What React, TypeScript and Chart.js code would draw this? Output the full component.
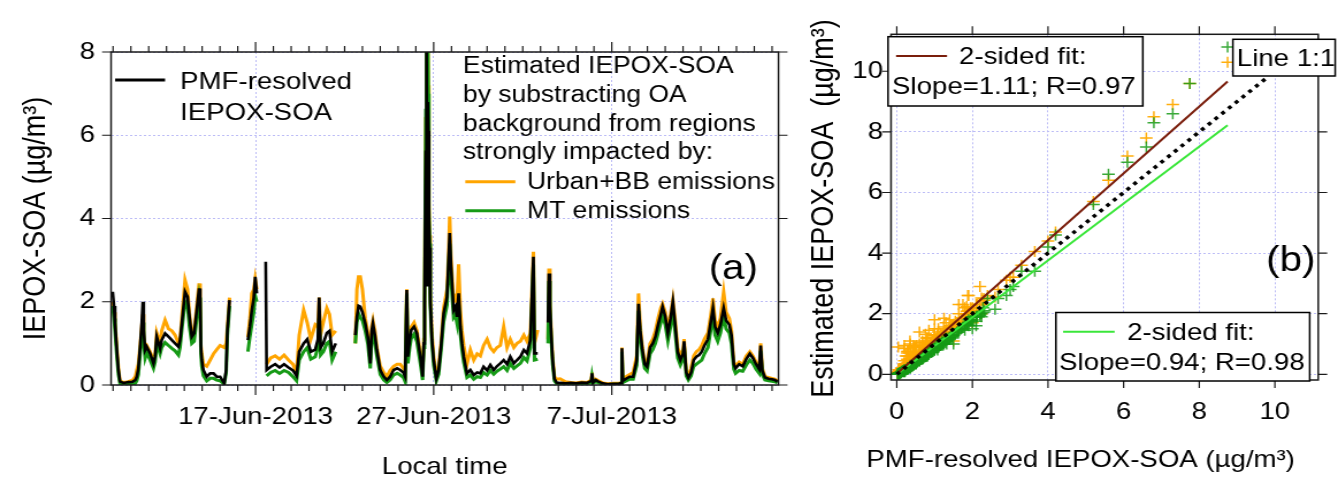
import React, { useEffect, useRef } from "react";
import { Chart, registerables } from "chart.js";

Chart.register(...registerables);

const FONT = "'Liberation Sans', Arial, Helvetica, sans-serif";
// the reference figure is rendered slightly stretched horizontally
const S = 1.15;

// ---------------- DATA ----------------
// time in days of June 2013 (31 = 1-Jul), null rows are gaps in the record
const dayOfJune = [
  8.98, 9.05, 9.11, 9.21, 9.30, 9.39, 9.60, 9.85, 10.10, 10.25,
  10.33, 10.42, 10.52, 10.61, 10.67, 10.72, 10.80, 10.89, 11.08, 11.27,
  11.36, 11.45, 11.64, 11.73, 11.92, 12.11, 12.30, 12.48, 12.67, 12.76,
  12.86, 13.04, 13.18, 13.29, 13.42, 13.55, 13.70, 13.83, 13.89, 13.93,
  13.98, 14.07, 14.26, 14.45, 14.64, 14.82, 15.01, 15.24, 15.35, 15.42,
  15.54, 16.00,
  16.57, 16.68, 16.79, 16.90, 16.98, 17.07, 17.30, 17.57, 17.62, 17.85,
  18.10, 18.35, 18.60, 18.85, 19.10, 19.30, 19.45, 19.70, 19.90, 20.10,
  20.35, 20.50, 20.57, 20.65, 20.80, 21.00, 21.15, 21.30, 21.50, 22.00,
  22.60, 22.69, 22.78, 22.88, 23.00, 23.16, 23.30, 23.44, 23.52, 23.59,
  23.70, 23.81, 24.00, 24.20, 24.37, 24.55, 24.75, 24.95, 25.12, 25.30,
  25.40, 25.49, 25.55, 25.66, 25.74, 25.90, 26.06, 26.25, 26.38, 26.45,
  26.49, 26.53, 26.56, 26.58, 26.60, 26.62, 26.64, 26.66, 26.68, 26.70,
  26.72, 26.74, 26.77, 26.81, 26.90, 27.00, 27.15, 27.28, 27.41, 27.56,
  27.75, 27.84, 27.90, 27.97, 28.05, 28.12, 28.22, 28.31, 28.40, 28.50,
  28.59, 28.69, 28.87, 29.06, 29.25, 29.44, 29.62, 29.80, 30.00, 30.18,
  30.37, 30.55, 30.74, 30.93, 31.12, 31.30, 31.50, 31.68, 31.87, 32.06,
  32.24, 32.43, 32.60, 32.66, 32.84, 33.10,
  33.42, 33.47, 33.53, 33.60, 33.68, 33.78, 33.90, 34.10, 34.40, 34.70,
  35.00, 35.30, 35.60, 35.85, 35.89, 35.95, 36.10, 36.25, 36.50, 36.80,
  37.10, 37.40, 37.54, 37.57, 37.62, 37.80, 38.00, 38.20, 38.40, 38.50,
  38.60, 38.72, 38.85, 38.98, 39.15, 39.30, 39.45, 39.60, 39.75, 39.85,
  40.00, 40.15, 40.30, 40.43, 40.55, 40.70, 40.85, 41.00, 41.06, 41.18,
  41.30, 41.45, 41.60, 41.75, 41.90, 42.05, 42.20, 42.40, 42.55, 42.68,
  42.80, 42.95, 43.10, 43.28, 43.42, 43.60, 43.72, 43.85, 43.95, 44.15,
  44.35, 44.55, 44.75, 44.92, 45.10, 45.28, 45.36, 45.45, 45.60, 45.80,
  46.00, 46.15, 46.30,
];

// PMF-resolved IEPOX-SOA (black)
const pmfResolved = [
  2.24, 1.90, 1.48, 0.84, 0.36, 0.08, 0.05, 0.07, 0.08, 0.12,
  0.20, 0.40, 0.92, 1.48, 2.00, 1.32, 0.84, 0.92, 0.76, 0.52,
  0.68, 1.16, 0.88, 1.08, 1.24, 1.16, 1.08, 1.00, 0.92, 1.08,
  1.48, 2.24, 2.12, 1.64, 1.16, 1.24, 1.80, 2.32, 2.10, 0.92,
  0.60, 0.36, 0.20, 0.28, 0.28, 0.20, 0.20, 0.04, 0.36, 1.32,
  2.04, null,
  1.08, 1.40, 1.80, 2.10, 2.60, 2.20, null, 2.96, 0.36, 0.44,
  0.50, 0.42, 0.50, 0.42, 0.35, 0.22, 0.80, 1.00, 1.10, 0.80,
  0.85, 1.10, 2.10, 0.90, 1.00, 1.25, 1.30, 0.80, 1.00, null,
  1.20, 1.64, 1.90, 1.88, 1.75, 1.48, 1.16, 0.52, 1.30, 1.48,
  1.20, 0.84, 0.36, 0.20, 0.12, 0.20, 0.36, 0.40, 0.36, 0.30,
  0.20, 2.28, 0.68, 1.10, 1.32, 1.40, 1.24, 0.68, 0.20, 1.00,
  2.00, 4.20, 5.60, 7.30, 8.75, 7.75, 2.40, 6.60, 6.80, 6.10,
  5.20, 4.00, 3.30, 2.00, 1.10, 0.60, 0.16, 0.36, 0.92, 1.72,
  2.12, 3.00, 3.65, 2.90, 2.30, 1.80, 1.88, 1.64, 2.20, 1.40,
  1.00, 0.68, 0.28, 0.36, 0.24, 0.30, 0.28, 0.44, 0.35, 0.48,
  0.36, 0.45, 0.52, 0.60, 0.50, 0.68, 0.52, 0.60, 0.68, 0.84,
  0.76, 1.08, 3.08, 0.76, 0.76, null,
  1.50, 2.68, 1.90, 1.20, 0.60, 0.15, 0.06, 0.05, 0.04, 0.05,
  0.04, 0.06, 0.05, 0.10, 0.28, 0.06, 0.12, 0.08, 0.04, 0.02,
  0.03, 0.03, 0.05, 0.88, 0.10, 0.15, 0.20, 0.20, 0.60, 1.95,
  1.30, 0.84, 0.50, 0.44, 0.90, 1.00, 1.16, 1.45, 1.70, 1.88,
  1.65, 1.25, 1.60, 2.00, 1.50, 0.80, 0.60, 0.75, 1.05, 0.30,
  0.18, 0.30, 0.60, 0.68, 0.72, 0.80, 0.95, 1.10, 1.50, 1.85,
  1.40, 1.25, 1.45, 1.85, 1.55, 1.45, 1.20, 0.50, 0.40, 0.50,
  0.45, 0.62, 0.75, 0.65, 0.50, 0.38, 0.95, 0.35, 0.18, 0.15,
  0.14, 0.12, 0.08,
];

// Estimated IEPOX-SOA, Urban+BB emissions background (orange)
const urbanBB = [
  2.00, 1.75, 1.50, 0.90, 0.40, 0.10, 0.06, 0.08, 0.12, 0.20,
  0.35, 0.50, 0.95, 1.40, 1.70, 1.20, 0.90, 0.95, 0.80, 0.60,
  0.70, 1.25, 1.00, 1.30, 1.56, 1.35, 1.30, 1.20, 1.00, 1.10,
  1.60, 2.52, 2.30, 1.70, 1.20, 1.30, 1.90, 2.44, 2.20, 0.95,
  0.75, 0.50, 0.45, 0.60, 0.75, 0.85, 0.95, 0.90, 1.00, 1.40,
  2.10, null,
  1.15, 1.60, 2.20, 2.30, 2.55, 2.30, null, null, 0.50, 0.65,
  0.70, 0.62, 0.72, 0.60, 0.50, 0.30, 1.20, 1.80, 1.50, 1.10,
  1.45, 1.40, 2.10, 1.20, 1.50, 1.85, 1.70, 1.20, 1.30, null,
  1.00, 2.30, 2.60, 2.60, 2.30, 1.60, 1.25, 0.60, 1.40, 1.55,
  1.30, 0.90, 0.45, 0.30, 0.20, 0.35, 0.45, 0.50, 0.50, 0.40,
  0.30, 2.30, 0.70, 1.20, 1.40, 1.50, 1.30, 0.75, 0.30, 1.10,
  2.10, 4.70, 6.40, 8.90, 10.30, 9.60, 2.60, 7.80, 8.50, 7.20,
  5.70, 4.40, 3.60, 2.20, 1.25, 0.70, 0.20, 0.45, 1.00, 1.85,
  2.30, 3.20, 4.05, 3.10, 2.50, 2.00, 2.10, 2.00, 2.90, 1.80,
  1.30, 0.95, 0.50, 0.84, 0.60, 0.75, 0.70, 0.95, 1.10, 0.90,
  0.80, 0.90, 0.95, 1.40, 0.90, 1.10, 0.90, 1.00, 1.05, 1.20,
  1.05, 1.24, 3.20, 1.00, 1.32, null,
  1.10, 2.80, 2.00, 1.30, 0.65, 0.20, 0.14, 0.15, 0.08, 0.06,
  0.05, 0.07, 0.06, 0.12, 0.30, 0.08, 0.14, 0.10, 0.05, 0.03,
  0.04, 0.04, 0.06, 0.90, 0.12, 0.20, 0.25, 0.30, 0.70, 2.20,
  1.40, 0.90, 0.55, 0.50, 1.00, 1.10, 1.30, 1.60, 1.85, 1.95,
  1.75, 1.35, 1.70, 2.05, 1.60, 0.90, 0.70, 0.85, 1.10, 0.35,
  0.22, 0.40, 0.70, 0.80, 0.85, 0.95, 1.10, 1.25, 1.65, 2.08,
  1.55, 1.40, 1.60, 2.24, 1.75, 1.60, 1.30, 0.55, 0.45, 0.55,
  0.50, 0.70, 0.80, 0.70, 0.55, 0.42, 1.00, 0.40, 0.20, 0.18,
  0.16, 0.14, 0.10,
];

// Estimated IEPOX-SOA, MT emissions background (green)
const mtEmissions = [
  1.90, 1.60, 1.30, 0.70, 0.25, 0.03, 0.00, 0.02, 0.02, 0.04,
  0.10, 0.25, 0.75, 1.20, 1.50, 1.00, 0.65, 0.78, 0.60, 0.40,
  0.55, 1.00, 0.75, 0.90, 1.02, 0.95, 0.88, 0.82, 0.72, 0.90,
  1.32, 2.00, 1.90, 1.40, 1.00, 1.05, 1.60, 2.10, 1.90, 0.75,
  0.45, 0.22, 0.10, 0.16, 0.16, 0.12, 0.10, 0.02, 0.30, 1.20,
  1.90, null,
  0.80, 1.15, 1.45, 1.75, 2.15, 2.00, null, null, 0.22, 0.30,
  0.35, 0.28, 0.35, 0.30, 0.20, 0.10, 0.60, 0.80, 0.90, 0.62,
  0.68, 0.90, 1.60, 0.72, 0.80, 1.00, 1.05, 0.60, 0.80, null,
  1.00, 1.50, 1.72, 1.62, 1.55, 1.30, 1.00, 0.40, 1.10, 1.30,
  1.00, 0.70, 0.25, 0.12, 0.06, 0.12, 0.24, 0.28, 0.24, 0.18,
  0.08, 2.20, 0.52, 0.92, 1.12, 1.22, 1.04, 0.52, 0.12, 0.90,
  1.90, 4.60, 6.60, 8.60, 10.80, 9.60, 2.50, 7.50, 8.30, 7.00,
  5.60, 4.20, 3.40, 1.90, 1.00, 0.48, 0.10, 0.26, 0.80, 1.52,
  1.92, 2.80, 3.40, 2.60, 2.05, 1.62, 1.68, 1.48, 1.95, 1.22,
  0.84, 0.54, 0.18, 0.24, 0.14, 0.20, 0.18, 0.30, 0.24, 0.35,
  0.26, 0.33, 0.38, 0.44, 0.35, 0.52, 0.40, 0.46, 0.52, 0.66,
  0.58, 0.90, 2.90, 0.60, 0.62, null,
  1.00, 2.50, 1.80, 1.10, 0.50, 0.10, 0.03, 0.02, 0.02, 0.03,
  0.02, 0.03, 0.03, 0.06, 0.20, 0.04, 0.08, 0.05, 0.02, 0.01,
  0.02, 0.02, 0.03, 0.80, 0.06, 0.10, 0.14, 0.14, 0.48, 1.78,
  1.14, 0.70, 0.40, 0.34, 0.75, 0.85, 1.00, 1.25, 1.50, 1.65,
  1.45, 1.06, 1.40, 1.80, 1.30, 0.65, 0.48, 0.62, 0.92, 0.22,
  0.12, 0.22, 0.45, 0.50, 0.55, 0.60, 0.75, 0.90, 1.30, 1.65,
  1.20, 1.05, 1.25, 1.65, 1.35, 1.25, 1.00, 0.38, 0.28, 0.35,
  0.33, 0.48, 0.60, 0.52, 0.38, 0.28, 0.82, 0.26, 0.12, 0.10,
  0.09, 0.08, 0.05,
];

// panel (a) axis ticks
const dateTickDays = [17, 27, 37];
const dateTickLabels = ["17-Jun-2013", "27-Jun-2013", "7-Jul-2013"];
const minorTickDays = [
  9, 10, 11, 12, 13, 14, 15, 16, 17, 18, 19, 20, 21, 22, 23, 24, 25, 26, 27,
  28, 29, 30, 31, 32, 33, 34, 35, 36, 37, 38, 39, 40, 41, 42, 43, 44, 45, 46,
];
const panelAYTicks = [0, 2, 4, 6, 8];

// panel (b) ticks and fitted lines (end points)
const panelBTicks = [0, 2, 4, 6, 8, 10];
const fitX = [0, 8.75];
const urbanFitY = [0.02, 9.66];
const mtFitY = [0.0, 8.22];
const oneToOneX = [0, 9.75];
const oneToOneY = [0, 9.75];

// ---------------- STYLE ----------------
const ORANGE = "#ffa500";
const GREEN = "#169a16";
const FIT_BROWN = "#7a1e0c";
const FIT_GREEN = "#3ae63a";
const GRID = "#bcbcf6";
const AXIS = "#1a1a1a";

function drawText(ctx: CanvasRenderingContext2D, str: string, x: number, y: number, size: number, align: CanvasTextAlign = "left") {
  ctx.font = `${size}px ${FONT}`;
  ctx.fillStyle = "#000";
  ctx.textAlign = align;
  ctx.textBaseline = "alphabetic";
  ctx.fillText(str, x, y);
}
function drawSample(ctx: CanvasRenderingContext2D, x1: number, x2: number, y: number, color: string, w: number) {
  ctx.save();
  ctx.setLineDash([]);
  ctx.strokeStyle = color;
  ctx.lineWidth = w;
  ctx.beginPath();
  ctx.moveTo(x1, y);
  ctx.lineTo(x2, y);
  ctx.stroke();
  ctx.restore();
}
function drawBox(ctx: CanvasRenderingContext2D, x1: number, y1: number, x2: number, y2: number) {
  ctx.save();
  ctx.setLineDash([]);
  ctx.fillStyle = "#fff";
  ctx.fillRect(x1, y1, x2 - x1, y2 - y1);
  ctx.strokeStyle = "#000";
  ctx.lineWidth = 1.5;
  ctx.strokeRect(x1, y1, x2 - x1, y2 - y1);
  ctx.restore();
}

const framePluginA = {
  id: "frameA",
  afterDraw(chart: any) {
    const { ctx, chartArea: a, scales } = chart;
    const xs = scales.x;
    const ys = scales.y;
    ctx.save();
    ctx.setLineDash([]);
    ctx.strokeStyle = AXIS;
    ctx.lineWidth = 1.5;
    ctx.strokeRect(a.left, a.top, a.right - a.left, a.bottom - a.top);
    ctx.lineWidth = 1.2;
    ctx.beginPath();
    for (const d of minorTickDays) {
      const px = xs.getPixelForValue(d);
      const len = dateTickDays.includes(d) ? 10 : 6;
      ctx.moveTo(px, a.bottom);
      ctx.lineTo(px, a.bottom + len);
      ctx.moveTo(px, a.top);
      ctx.lineTo(px, a.top - len);
    }
    for (const v of panelAYTicks) {
      const py = ys.getPixelForValue(v);
      ctx.moveTo(a.left, py);
      ctx.lineTo(a.left - 9 / S, py);
      ctx.moveTo(a.right, py);
      ctx.lineTo(a.right + 9 / S, py);
    }
    ctx.stroke();

    // legend
    drawSample(ctx, 115 / S, 165 / S, 80, "#000", 3);
    drawText(ctx, "PMF-resolved", 180 / S, 89.3, 24);
    drawText(ctx, "IEPOX-SOA", 180 / S, 120, 24);
    const lx = 462.7 / S;
    drawText(ctx, "Estimated IEPOX-SOA", lx, 73.3, 23);
    drawText(ctx, "by substracting OA", lx, 101.7, 23);
    drawText(ctx, "background from regions", lx, 130.7, 23);
    drawText(ctx, "strongly impacted by:", lx, 159.3, 23);
    drawSample(ctx, 465 / S, 515 / S, 181.7, ORANGE, 3);
    drawText(ctx, "Urban+BB emissions", 526.7 / S, 189.3, 23);
    drawSample(ctx, 465 / S, 515 / S, 210.7, GREEN, 3);
    drawText(ctx, "MT emissions", 526.7 / S, 218.3, 23);
    drawText(ctx, "(a)", 708.3 / S, 278.5, 35);
    ctx.restore();
  },
};

const B0 = 795; // screen left of panel (b) canvas
const bx = (sx: number) => (sx - B0) / S;

const framePluginB = {
  id: "frameB",
  afterDraw(chart: any) {
    const { ctx, chartArea: a, scales } = chart;
    const xs = scales.x;
    const ys = scales.y;
    ctx.save();
    ctx.setLineDash([]);
    ctx.strokeStyle = AXIS;
    ctx.lineWidth = 1.5;
    ctx.strokeRect(a.left, a.top, a.right - a.left, a.bottom - a.top);
    ctx.lineWidth = 1.2;
    ctx.beginPath();
    for (const v of panelBTicks) {
      const px = xs.getPixelForValue(v);
      ctx.moveTo(px, a.bottom);
      ctx.lineTo(px, a.bottom + 8);
      ctx.moveTo(px, a.top);
      ctx.lineTo(px, a.top - 8);
      const py = ys.getPixelForValue(v);
      ctx.moveTo(a.left, py);
      ctx.lineTo(a.left - 9 / S, py);
      ctx.moveTo(a.right, py);
      ctx.lineTo(a.right + 9 / S, py);
    }
    ctx.stroke();

    // legend boxes
    drawBox(ctx, bx(888), 36.7, bx(1142.7), 106);
    drawSample(ctx, bx(896), bx(947), 56, FIT_BROWN, 2);
    drawText(ctx, "2-sided fit:", bx(959), 64.3, 24);
    drawText(ctx, "Slope=1.11; R=0.97", bx(892), 94.3, 24);

    drawBox(ctx, bx(1232.7), 39.3, bx(1335), 76);
    drawText(ctx, "Line 1:1", bx(1236.7), 66, 24);

    drawBox(ctx, bx(1055.8), 312.5, bx(1309.5), 381);
    drawSample(ctx, bx(1063), bx(1114.5), 331.7, FIT_GREEN, 2);
    drawText(ctx, "2-sided fit:", bx(1127), 340, 24);
    drawText(ctx, "Slope=0.94; R=0.98", bx(1059), 370, 24);

    drawText(ctx, "(b)", bx(1266), 271, 35);

    // axis titles
    drawText(ctx, "PMF-resolved IEPOX-SOA (\u00b5g/m\u00b3)", bx(1080.5), 466.7, 24, "center");
    ctx.save();
    ctx.translate(bx(832.9), 208.5);
    ctx.rotate(-Math.PI / 2);
    drawText(ctx, "Estimated IEPOX-SOA  (\u00b5g/m\u00b3)", 0, 0, 27, "center");
    ctx.restore();
    ctx.restore();
  },
};

function seriesPoints(values: (number | null)[]) {
  return dayOfJune.map((t, i) => ({ x: t, y: values[i] }));
}
function pairs(ys: (number | null)[]) {
  const out: { x: number; y: number }[] = [];
  dayOfJune.forEach((_, i) => {
    const x = pmfResolved[i];
    const y = ys[i];
    if (x != null && y != null) out.push({ x, y });
  });
  return out;
}

const W_A = 690;
const W_B = 472;
const H = 481;

function configA(): any {
  return {
    type: "line",
    data: {
      datasets: [
        { label: "PMF-resolved IEPOX-SOA", data: seriesPoints(pmfResolved), borderColor: "#000", borderWidth: 2.6, pointRadius: 0, spanGaps: false, order: 0 },
        { label: "MT emissions", data: seriesPoints(mtEmissions), borderColor: GREEN, borderWidth: 3, pointRadius: 0, spanGaps: false, order: 1 },
        { label: "Urban+BB emissions", data: seriesPoints(urbanBB), borderColor: ORANGE, borderWidth: 3, pointRadius: 0, spanGaps: false, order: 2 },
      ],
    },
    options: {
      animation: false,
      responsive: false,
      devicePixelRatio: 1,
      events: [],
      layout: { padding: { top: 52, right: W_A - 778 / S, left: 0, bottom: 0 } },
      plugins: { legend: { display: false }, tooltip: { enabled: false } },
      scales: {
        x: {
          type: "linear",
          min: 8.888,
          max: 46.36,
          afterBuildTicks: (s: any) => { s.ticks = dateTickDays.map((v) => ({ value: v })); },
          afterFit: (s: any) => { s.height = H - 385; },
          ticks: {
            autoSkip: false,
            maxRotation: 0,
            padding: 18,
            color: "#000",
            font: { size: 24 },
            callback: (v: number) => { const i = dateTickDays.indexOf(v); return i >= 0 ? dateTickLabels[i] : ""; },
          },
          grid: { drawTicks: false, color: GRID, lineWidth: 1 },
          border: { display: false, dash: [2, 2] },
          title: { display: true, text: "Local time", color: "#000", font: { size: 24, lineHeight: 1.1 }, padding: { top: 0, bottom: 0 } },
        },
        y: {
          type: "linear",
          min: 0,
          max: 8,
          afterBuildTicks: (s: any) => { s.ticks = panelAYTicks.map((v) => ({ value: v })); },
          afterFit: (s: any) => { s.width = 111 / S; },
          ticks: { padding: 14, color: "#000", font: { size: 24 } },
          grid: { drawTicks: false, color: GRID, lineWidth: 1 },
          border: { display: false, dash: [2, 2] },
          title: { display: true, text: "IEPOX-SOA (\u00b5g/m\u00b3)", color: "#000", font: { size: 27, lineHeight: 1.2 }, padding: { top: 15, bottom: 0 } },
        },
      },
    },
    plugins: [framePluginA],
  };
}

function configB(): any {
  return {
    type: "scatter",
    data: {
      datasets: [
        { label: "Line 1:1", data: oneToOneX.map((x, i) => ({ x, y: oneToOneY[i] })), showLine: true, borderColor: "#000", borderWidth: 3.5, borderDash: [3.5, 4.5], pointRadius: 0, order: 0 },
        { label: "2-sided fit Urban+BB", data: fitX.map((x, i) => ({ x, y: urbanFitY[i] })), showLine: true, borderColor: FIT_BROWN, borderWidth: 2, pointRadius: 0, order: 1 },
        { label: "2-sided fit MT", data: fitX.map((x, i) => ({ x, y: mtFitY[i] })), showLine: true, borderColor: FIT_GREEN, borderWidth: 2, pointRadius: 0, order: 2 },
        { label: "MT emissions", data: pairs(mtEmissions), pointStyle: "cross", pointRadius: 5.5, borderColor: "rgba(22,154,22,0.85)", backgroundColor: "rgba(22,154,22,0.85)", borderWidth: 1.5, order: 3 },
        { label: "Urban+BB emissions", data: pairs(urbanBB), pointStyle: "cross", pointRadius: 5.5, borderColor: "rgba(255,170,0,0.95)", backgroundColor: "rgba(255,170,0,0.95)", borderWidth: 1.5, order: 4 },
      ],
    },
    options: {
      animation: false,
      responsive: false,
      devicePixelRatio: 1,
      events: [],
      layout: { padding: { top: 34.3, right: W_B - bx(1318), left: 0, bottom: 0 } },
      plugins: { legend: { display: false }, tooltip: { enabled: false } },
      scales: {
        x: {
          type: "linear",
          min: -0.151,
          max: 11.146,
          afterBuildTicks: (s: any) => { s.ticks = panelBTicks.map((v) => ({ value: v })); },
          afterFit: (s: any) => { s.height = H - 380; },
          ticks: { autoSkip: false, maxRotation: 0, padding: 18, color: "#000", font: { size: 24 } },
          grid: { drawTicks: false, color: GRID, lineWidth: 1 },
          border: { display: false, dash: [2, 2] },
        },
        y: {
          type: "linear",
          min: -0.188,
          max: 11.22,
          afterBuildTicks: (s: any) => { s.ticks = panelBTicks.map((v) => ({ value: v })); },
          afterFit: (s: any) => { s.width = bx(891); },
          ticks: { padding: 7, color: "#000", font: { size: 24 } },
          grid: { drawTicks: false, color: GRID, lineWidth: 1 },
          border: { display: false, dash: [2, 2] },
        },
      },
    },
    plugins: [framePluginB],
  };
}

export default function App() {
  const refA = useRef<HTMLCanvasElement>(null);
  const refB = useRef<HTMLCanvasElement>(null);
  useEffect(() => {
    Chart.defaults.font.family = FONT;
    Chart.defaults.color = "#000";
    const a = new Chart(refA.current as HTMLCanvasElement, configA());
    const b = new Chart(refB.current as HTMLCanvasElement, configB());
    return () => {
      a.destroy();
      b.destroy();
    };
  }, []);
  return (
    <div style={{ position: "absolute", left: 0, top: 0, width: 1338, height: H, background: "#fff", overflow: "hidden" }}>
      <canvas ref={refA} width={W_A} height={H} style={{ position: "absolute", left: 0, top: 0, width: `${W_A * S}px`, height: `${H}px` }} />
      <canvas ref={refB} width={W_B} height={H} style={{ position: "absolute", left: B0, top: 0, width: `${W_B * S}px`, height: `${H}px` }} />
    </div>
  );
}
